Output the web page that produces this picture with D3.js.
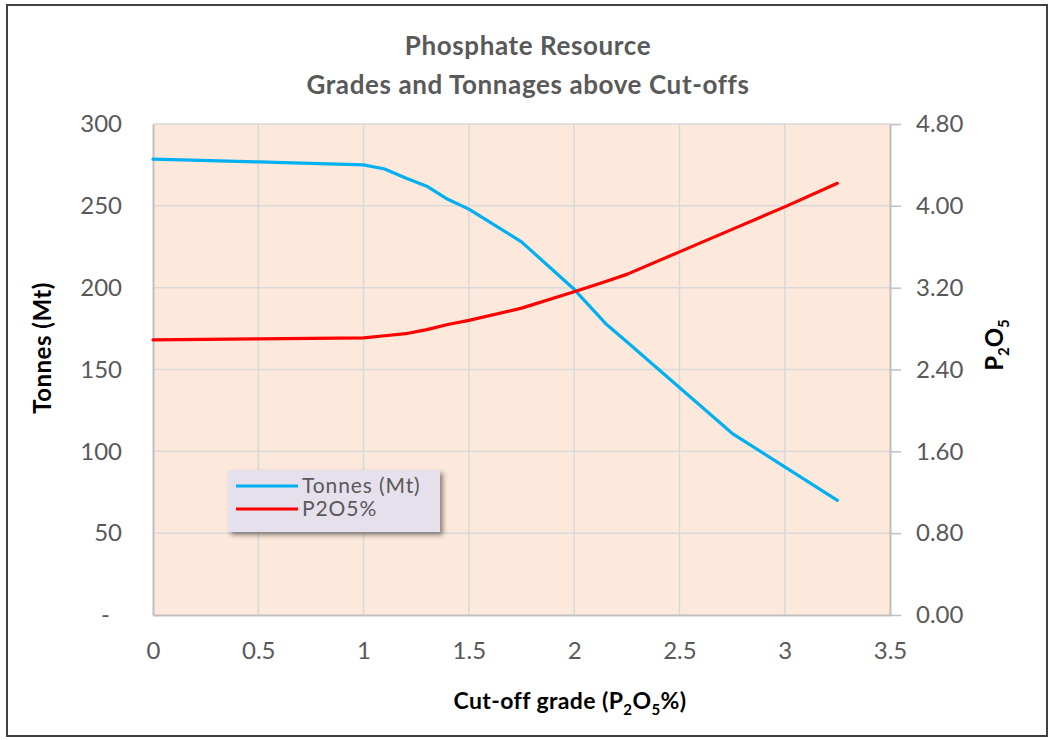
<!DOCTYPE html>
<html>
<head>
<meta charset="utf-8">
<script src="https://cdn.jsdelivr.net/npm/d3@7"></script>
<style>
  body { margin: 0; background: #fff; }
  text { font-family: Lato, "Open Sans", sans-serif; }
</style>
</head>
<body>
<div id="app"></div>
<script>
// cut-off grades (P2O5 %)
const cutoffs = [0, 0.5, 1.0, 1.1, 1.2, 1.3, 1.4, 1.5, 1.75, 2.0, 2.15, 2.25, 2.5, 2.75, 3.0, 3.25];
// tonnes above cut-off (Mt)
const tonnes = [278.5, 276.8, 275, 272.5, 267, 262, 254, 248, 228, 199, 178, 167, 139, 111, 90.5, 70];
// average grade above cut-off (P2O5 %)
const grades = [2.69, 2.70, 2.71, 2.73, 2.75, 2.79, 2.84, 2.88, 3.00, 3.16, 3.26, 3.33, 3.55, 3.77, 3.99, 4.22];

const xTicks = [0, 0.5, 1, 1.5, 2, 2.5, 3, 3.5];
const leftTicks = [0, 50, 100, 150, 200, 250, 300];
const rightTicks = [0, 0.8, 1.6, 2.4, 3.2, 4.0, 4.8];

const W = 1050, H = 740;
const plot = { left: 153, right: 890, top: 124, bottom: 615 };

const svg = d3.select("#app").append("svg")
  .attr("width", W)
  .attr("height", H);

// outer frame
svg.append("rect")
  .attr("x", 7).attr("y", 5)
  .attr("width", 1040).attr("height", 731)
  .attr("fill", "#fff")
  .attr("stroke", "#404040")
  .attr("stroke-width", 2);

const x = d3.scaleLinear().domain([0, 3.5]).range([plot.left, plot.right]);
const yL = d3.scaleLinear().domain([0, 300]).range([plot.bottom, plot.top]);
const yR = d3.scaleLinear().domain([0, 4.8]).range([plot.bottom, plot.top]);

// plot area
svg.append("rect")
  .attr("x", plot.left).attr("y", plot.top)
  .attr("width", plot.right - plot.left)
  .attr("height", plot.bottom - plot.top)
  .attr("fill", "#fde9db");

// grid
const grid = svg.append("g").attr("stroke", "#d9d9d9").attr("stroke-width", 1.5);
grid.selectAll(".gx").data(xTicks.slice(1, -1)).join("line")
  .attr("x1", d => x(d)).attr("x2", d => x(d))
  .attr("y1", plot.top).attr("y2", plot.bottom);
grid.selectAll(".gy").data(leftTicks.slice(1)).join("line")
  .attr("x1", plot.left).attr("x2", plot.right)
  .attr("y1", d => yL(d)).attr("y2", d => yL(d));

// axes
const axisColor = "#bfbfbf";
const labelColor = "#595959";

const gx = svg.append("g")
  .attr("transform", `translate(0,${plot.bottom})`)
  .call(d3.axisBottom(x).tickValues(xTicks).tickSize(0).tickPadding(27)
    .tickFormat(d => String(d)));
gx.select(".domain").attr("stroke", axisColor).attr("stroke-width", 2);

const gl = svg.append("g")
  .attr("transform", `translate(${plot.left},0)`)
  .call(d3.axisLeft(yL).tickValues(leftTicks).tickSize(0).tickPadding(31)
    .tickFormat(d => d === 0 ? "-" : String(d)));
gl.select(".domain").attr("stroke", axisColor).attr("stroke-width", 2);
gl.selectAll(".tick text").filter(d => d === 0).attr("dx", -12);

const gr = svg.append("g")
  .attr("transform", `translate(${plot.right},0)`)
  .call(d3.axisRight(yR).tickValues(rightTicks).tickSize(11).tickSizeOuter(0).tickPadding(15)
    .tickFormat(d3.format(".2f")));
gr.select(".domain").attr("stroke", axisColor).attr("stroke-width", 2);
gr.selectAll(".tick line").attr("stroke", axisColor).attr("stroke-width", 1.5);

svg.selectAll(".tick text")
  .attr("fill", labelColor)
  .style("font-size", "24px")
  .style("font-family", "Lato, sans-serif");

// lines
const line = (ys) => d3.line().x((d, i) => x(cutoffs[i])).y(d => ys(d));

svg.append("path")
  .datum(tonnes)
  .attr("d", line(yL))
  .attr("fill", "none")
  .attr("stroke", "#00b0f0")
  .attr("stroke-width", 3.2)
  .attr("stroke-linejoin", "round")
  .attr("stroke-linecap", "round");

svg.append("path")
  .datum(grades)
  .attr("d", line(yR))
  .attr("fill", "none")
  .attr("stroke", "#ff0000")
  .attr("stroke-width", 3.2)
  .attr("stroke-linejoin", "round")
  .attr("stroke-linecap", "round");

// title
const title = svg.append("text")
  .attr("text-anchor", "middle")
  .attr("fill", labelColor)
  .style("font-size", "26px")
  .style("font-weight", "bold")
  .style("letter-spacing", "0.6px");
title.append("tspan").attr("x", 528).attr("y", 55).text("Phosphate Resource");
title.append("tspan").attr("x", 528).attr("y", 94).text("Grades and Tonnages above Cut-offs");

// axis titles
svg.append("text")
  .attr("transform", "translate(51,348) rotate(-90)")
  .attr("text-anchor", "middle")
  .style("font-size", "24px")
  .style("font-weight", "bold")
  .style("letter-spacing", "0.5px")
  .text("Tonnes (Mt)");

const rt = svg.append("text")
  .attr("transform", "translate(1003,345) rotate(-90)")
  .attr("text-anchor", "middle")
  .style("font-size", "24px")
  .style("font-weight", "bold");
rt.append("tspan").text("P");
rt.append("tspan").attr("dy", 6).style("font-size", "15px").text("2");
rt.append("tspan").attr("dy", -6).text("O");
rt.append("tspan").attr("dy", 6).style("font-size", "15px").text("5");

const xt = svg.append("text")
  .attr("x", 570).attr("y", 709)
  .attr("text-anchor", "middle")
  .style("font-size", "23px")
  .style("font-weight", "bold")
  .style("letter-spacing", "0.4px");
xt.append("tspan").text("Cut-off grade (P");
xt.append("tspan").attr("dy", 6).style("font-size", "15px").text("2");
xt.append("tspan").attr("dy", -6).text("O");
xt.append("tspan").attr("dy", 6).style("font-size", "15px").text("5");
xt.append("tspan").attr("dy", -6).text("%)");

// legend
const defs = svg.append("defs");
const f = defs.append("filter").attr("id", "shadow")
  .attr("x", "-10%").attr("y", "-10%").attr("width", "130%").attr("height", "140%");
f.append("feDropShadow").attr("dx", 3).attr("dy", 3).attr("stdDeviation", 2.5)
  .attr("flood-color", "#000").attr("flood-opacity", 0.45);

const legendItems = [
  { name: "Tonnes (Mt)", color: "#00b0f0" },
  { name: "P2O5%", color: "#ff0000" }
];
const lg = svg.append("g").attr("transform", "translate(228,470)");
lg.append("rect")
  .attr("width", 212).attr("height", 62)
  .attr("fill", "#e6e0ec")
  .attr("filter", "url(#shadow)");
const li = lg.selectAll(".item").data(legendItems).join("g")
  .attr("transform", (d, i) => `translate(0,${16 + i * 23})`);
li.append("line")
  .attr("x1", 8).attr("x2", 70)
  .attr("stroke", d => d.color).attr("stroke-width", 3.2);
li.append("text")
  .attr("x", 74).attr("dy", "0.35em")
  .attr("fill", labelColor)
  .style("font-size", "21px")
  .style("letter-spacing", "0.9px")
  .text(d => d.name);
</script>
</body>
</html>
